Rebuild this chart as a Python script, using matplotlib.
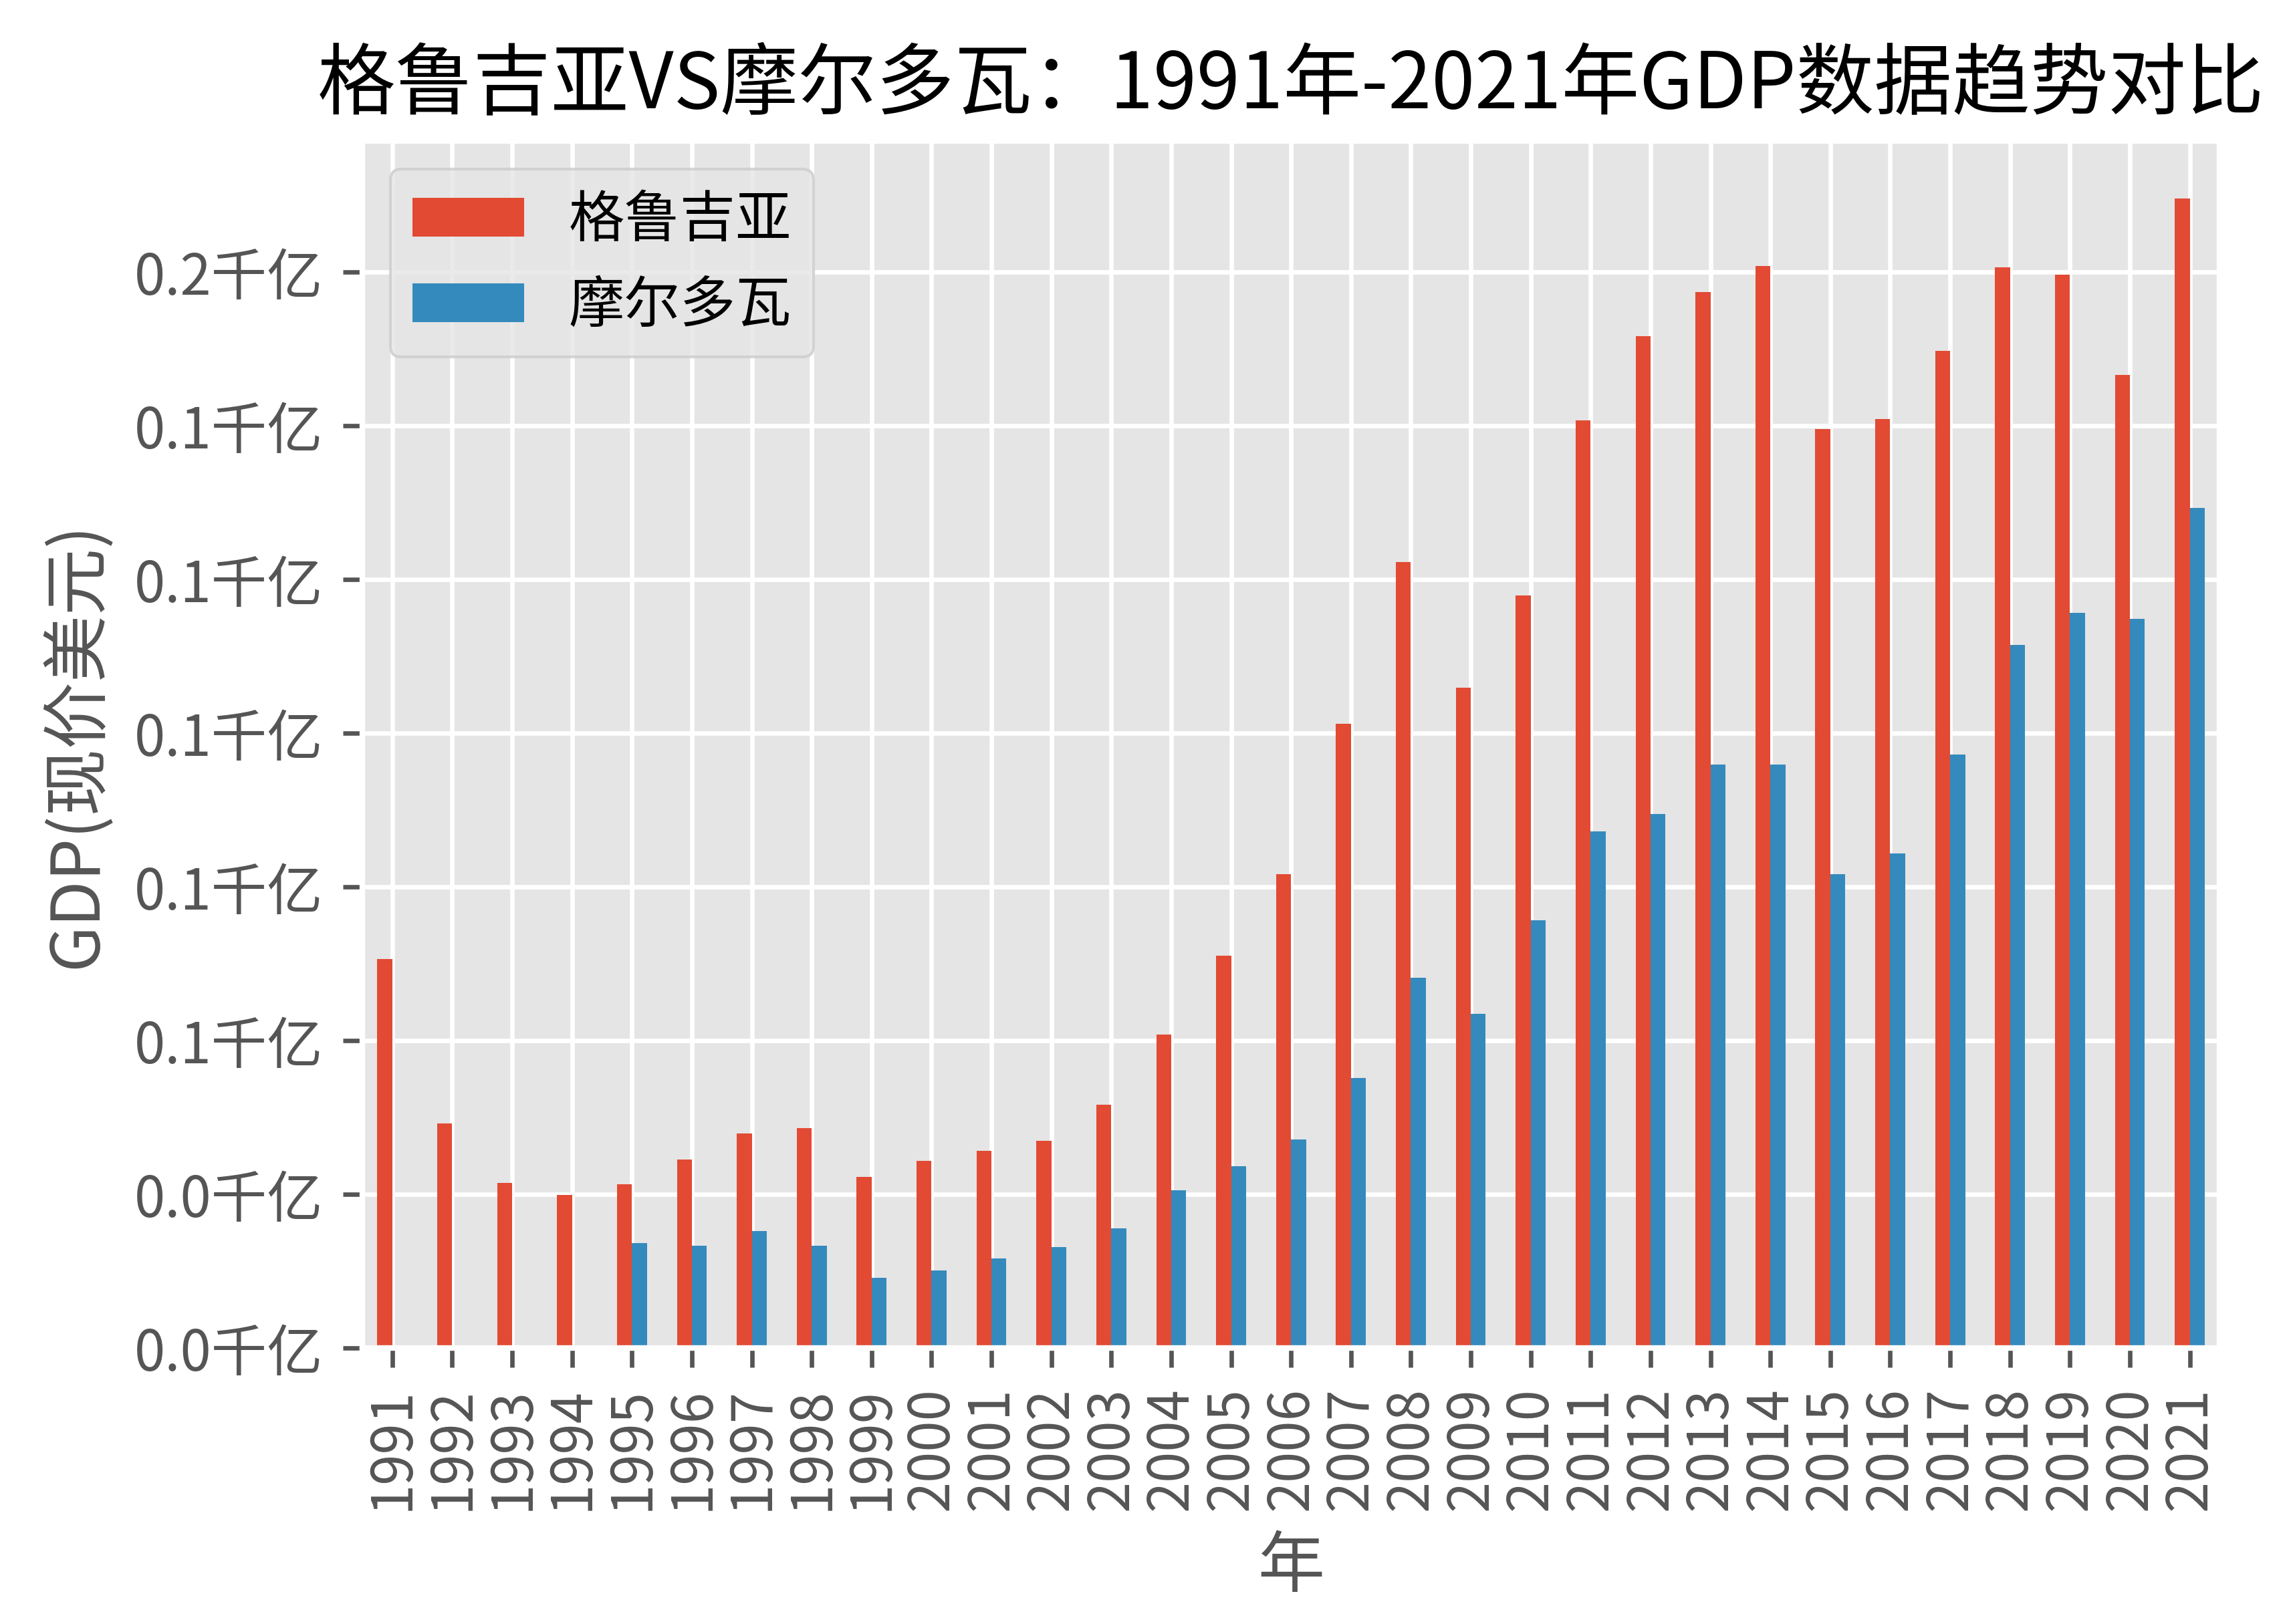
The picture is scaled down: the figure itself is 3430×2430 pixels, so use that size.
import pandas as pd
import numpy as np
import matplotlib
matplotlib.use("Agg")
import matplotlib.pyplot as plt
from matplotlib.ticker import FuncFormatter

plt.style.use("ggplot")
plt.rcParams["font.family"] = ["Noto Sans CJK SC", "DejaVu Sans"]
plt.rcParams["axes.unicode_minus"] = False

years = list(range(1991, 2022))
# GDP, current US$
georgia = [6.33e9, 3.65e9, 2.68e9, 2.49e9, 2.66e9, 3.06e9, 3.49e9, 3.58e9, 2.78e9, 3.04e9,
           3.20e9, 3.37e9, 3.96e9, 5.10e9, 6.38e9, 7.71e9, 10.15e9, 12.78e9, 10.74e9, 12.24e9,
           15.09e9, 16.46e9, 17.17e9, 17.60e9, 14.94e9, 15.11e9, 16.22e9, 17.58e9, 17.46e9, 15.82e9,
           18.69e9]
moldova = [np.nan, np.nan, np.nan, np.nan, 1.71e9, 1.66e9, 1.90e9, 1.66e9, 1.14e9, 1.26e9,
           1.45e9, 1.64e9, 1.94e9, 2.56e9, 2.96e9, 3.39e9, 4.39e9, 6.02e9, 5.43e9, 6.95e9,
           8.40e9, 8.68e9, 9.49e9, 9.49e9, 7.71e9, 8.04e9, 9.65e9, 11.43e9, 11.95e9, 11.86e9,
           13.66e9]

df = pd.DataFrame({"格鲁吉亚": georgia, "摩尔多瓦": moldova}, index=years)

fig = plt.figure(figsize=(5.717, 4.05), dpi=600)
ax = fig.add_axes([0.158, 0.170, 0.810, 0.743])
df.plot(kind="bar", ax=ax)

ax.yaxis.set_major_formatter(FuncFormatter(lambda x, pos: "%.1f千亿" % (x / 1e11)))
ax.set_title("格鲁吉亚VS摩尔多瓦：1991年-2021年GDP数据趋势对比", fontsize=14)
ax.set_xlabel("年")
ax.set_ylabel("GDP(现价美元)")
ax.tick_params(axis="both", labelsize=10)
ax.legend(loc="upper left", fontsize=10)

plt.savefig("out.png", dpi=600)
